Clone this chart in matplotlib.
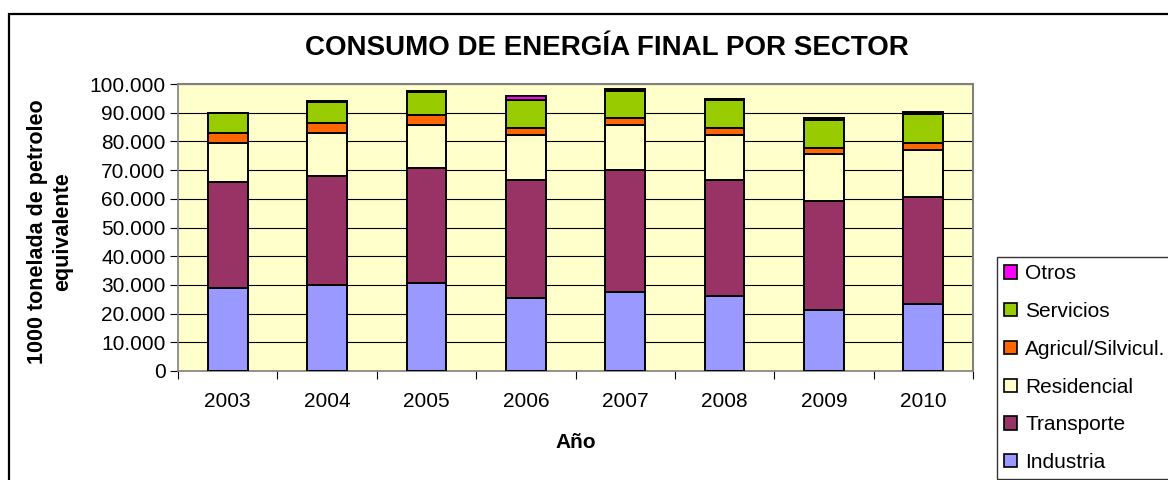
# -*- coding: utf-8 -*-
import numpy as np
import matplotlib.pyplot as plt
from matplotlib.patches import Patch, Rectangle
from matplotlib.ticker import FuncFormatter, MultipleLocator

# datos (1000 tep)
anios = ["2003", "2004", "2005", "2006", "2007", "2008", "2009", "2010"]
industria = [28800, 30100, 30800, 25400, 27400, 26100, 21400, 23500]
transporte = [37200, 37900, 39900, 41300, 42600, 40600, 37800, 37100]
residencial = [13500, 14900, 14900, 15500, 15700, 15500, 16300, 16400]
agricultura = [3500, 3600, 3500, 2600, 2600, 2600, 2100, 2500]
servicios = [6900, 7100, 8100, 9700, 9400, 9500, 9900, 10000]
otros = [100, 600, 200, 1300, 600, 500, 600, 600]

nombres = ["Industria", "Transporte", "Residencial", "Agricul/Silvicul.", "Servicios", "Otros"]
colores = ["#9999FF", "#993366", "#FFFFCC", "#FF6600", "#99CC00", "#FF00FF"]

W, H = 1168, 480
plt.rcParams['font.family'] = ['Liberation Sans', 'DejaVu Sans']

fig = plt.figure(figsize=(W / 100, H / 100), dpi=100)

# borde exterior del grafico
fig.patches.append(Rectangle((9 / W, -0.1), 1.2, 1.1 - 14 / H, transform=fig.transFigure,
                             fill=False, edgecolor="black", linewidth=1.6))

ax = fig.add_axes([178 / W, (H - 371) / H, 795 / W, 287 / H])
ax.set_facecolor("#FFFFCC")

x = np.arange(len(anios))
series = [industria, transporte, residencial, agricultura, servicios, otros]
base = np.zeros(len(anios))
for vals, nombre, col in zip(series, nombres, colores):
    ax.bar(x, vals, 0.4, bottom=base, color=col, edgecolor="black",
           linewidth=1.4, label=nombre, zorder=3)
    base += np.array(vals)

ax.set_xlim(-0.5, len(anios) - 0.5)
ax.set_ylim(0, 100000)
ax.yaxis.set_major_locator(MultipleLocator(10000))
ax.yaxis.set_major_formatter(FuncFormatter(lambda v, p: f"{int(v):,}".replace(",", ".")))
ax.grid(axis="y", color="black", linewidth=0.8, zorder=1)
ax.set_axisbelow(True)

ax.set_xticks(x)
ax.set_xticklabels(anios)
ax.set_xticks(np.arange(-0.5, len(anios)), minor=True)
ax.tick_params(axis="x", which="major", length=0, labelsize=15, pad=15)
ax.tick_params(axis="x", which="minor", length=6, direction="out", width=0.8)
ax.tick_params(axis="y", length=6, direction="out", width=0.8, labelsize=15, pad=3)

for s in ["top", "right"]:
    ax.spines[s].set_color("#808080")
    ax.spines[s].set_linewidth(1.5)
for s in ["left", "bottom"]:
    ax.spines[s].set_color("#808080")
    ax.spines[s].set_linewidth(1.2)

fig.text(607 / W, 1 - 48 / H, "CONSUMO DE ENERGÍA FINAL POR SECTOR", ha="center",
         va="center", fontsize=20, fontweight="bold")
fig.text(50 / W, 1 - 232 / H, "1000 tonelada de petroleo\nequivalente", ha="center",
         va="center", rotation=90, fontsize=15.5, fontweight="bold", linespacing=1.25)
fig.text(576 / W, 1 - 442 / H, "Año", ha="center", va="center", fontsize=15,
         fontweight="bold")

# leyenda (orden inverso)
handles = [Patch(facecolor=c, edgecolor="black", linewidth=1.2) for c in colores][::-1]
leg = fig.legend(handles, nombres[::-1], loc="upper left",
                 bbox_to_anchor=(997 / W, 1 - 257 / H), fontsize=15, frameon=True,
                 fancybox=False, edgecolor="black", borderpad=0.35,
                 labelspacing=0.9, handlelength=0.6, handleheight=0.6,
                 handletextpad=0.4, borderaxespad=0)
leg.get_frame().set_linewidth(1.0)

fig.savefig("out.png", dpi=100)
